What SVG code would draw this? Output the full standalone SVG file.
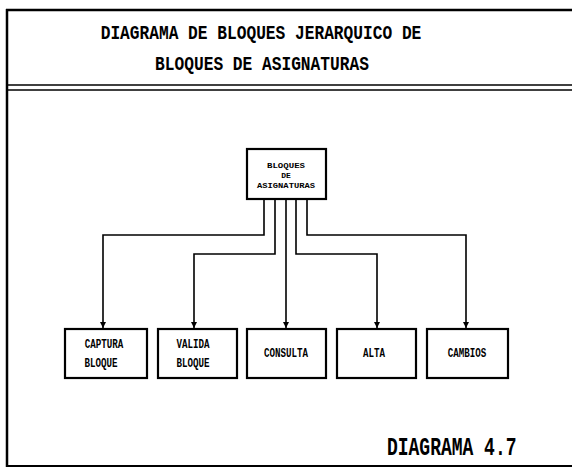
<svg xmlns="http://www.w3.org/2000/svg" width="572" height="471" viewBox="0 0 572 471">
<defs>
<style>
.t{font-family:"Liberation Mono","DejaVu Sans Mono",monospace;font-weight:bold;fill:#000}
.box{fill:#fff;stroke:#000;stroke-width:2.2}
.frame{fill:none;stroke:#000}
.conn{fill:none;stroke:#000;stroke-width:1.6}
</style>
<marker id="arr" viewBox="0 0 10 10" refX="10" refY="5" markerWidth="6" markerHeight="7" orient="auto" markerUnits="userSpaceOnUse">
<path d="M0,0 L10,5 L0,10 z" fill="#000"/>
</marker>
</defs>
<rect width="572" height="471" fill="#fff"/>
<g id="frame">
<line class="frame" x1="6" y1="10" x2="572" y2="10" stroke-width="2.5"/>
<line class="frame" x1="7" y1="9" x2="7" y2="467" stroke-width="2.5"/>
<line class="frame" x1="6" y1="466" x2="572" y2="466" stroke-width="2"/>
<line class="frame" x1="8" y1="85" x2="572" y2="85" stroke-width="1.6"/>
<line class="frame" x1="8" y1="90" x2="572" y2="90" stroke-width="1.6"/>
</g>
<g id="title">
<text class="t" transform="translate(261,39) scale(1,1.25)" font-size="16.2" text-anchor="middle">DIAGRAMA DE BLOQUES JERARQUICO DE</text>
<text class="t" transform="translate(262,70) scale(1,1.25)" font-size="16.2" text-anchor="middle">BLOQUES DE ASIGNATURAS</text>
</g>
<g id="connectors">
<path class="conn" d="M264,200 V235 H103 V328" marker-end="url(#arr)"/>
<path class="conn" d="M275,200 V254 H194 V328" marker-end="url(#arr)"/>
<path class="conn" d="M286,200 V328" marker-end="url(#arr)"/>
<path class="conn" d="M296,200 V254 H377 V328" marker-end="url(#arr)"/>
<path class="conn" d="M307,200 V235 H466 V328" marker-end="url(#arr)"/>
</g>
<g id="root">
<rect class="box" x="247" y="149" width="79" height="50"/>
<text class="t" x="286" y="168" font-size="8" text-anchor="middle" textLength="38" lengthAdjust="spacingAndGlyphs">BLOQUES</text>
<text class="t" x="286" y="178" font-size="8" text-anchor="middle">DE</text>
<text class="t" x="286" y="188" font-size="8" text-anchor="middle" textLength="58" lengthAdjust="spacingAndGlyphs">ASIGNATURAS</text>
</g>
<g id="captura">
<rect class="box" x="65" y="329" width="82" height="49"/>
<text class="t" transform="translate(104,348) scale(1,1.3)" font-size="9.2" text-anchor="middle">CAPTURA</text>
<text class="t" transform="translate(101,367) scale(1,1.3)" font-size="9.2" text-anchor="middle">BLOQUE</text>
</g>
<g id="valida">
<rect class="box" x="158" y="329" width="79" height="49"/>
<text class="t" transform="translate(193,348) scale(1,1.3)" font-size="9.2" text-anchor="middle">VALIDA</text>
<text class="t" transform="translate(193,367) scale(1,1.3)" font-size="9.2" text-anchor="middle">BLOQUE</text>
</g>
<g id="consulta">
<rect class="box" x="247" y="329" width="79" height="49"/>
<text class="t" transform="translate(286,357) scale(1,1.3)" font-size="9.2" text-anchor="middle">CONSULTA</text>
</g>
<g id="alta">
<rect class="box" x="337" y="329" width="79" height="49"/>
<text class="t" transform="translate(374,357) scale(1,1.3)" font-size="9.2" text-anchor="middle">ALTA</text>
</g>
<g id="cambios">
<rect class="box" x="427" y="329" width="81" height="49"/>
<text class="t" transform="translate(467,357) scale(1,1.3)" font-size="9.2" text-anchor="middle">CAMBIOS</text>
</g>
<g id="label">
<text class="t" transform="translate(387,455) scale(1,1.4)" font-size="18">DIAGRAMA 4.7</text>
</g>
</svg>
